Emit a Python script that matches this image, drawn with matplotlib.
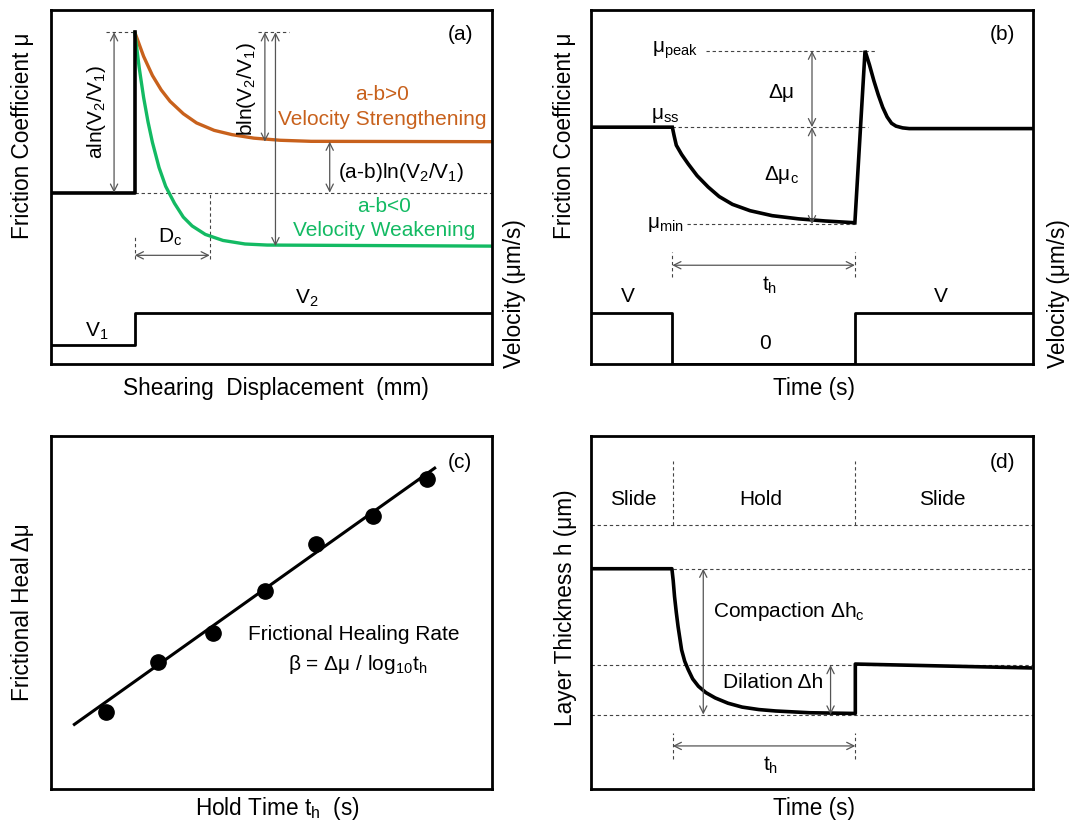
import matplotlib
matplotlib.use("Agg")
import matplotlib.pyplot as plt

plt.rcParams['font.family'] = ['Liberation Sans', 'DejaVu Sans']
plt.rcParams['mathtext.default'] = 'regular'

ORANGE = '#C8611C'
GREEN = '#13BA63'
GRAY = '#555555'

# ---- panel (a): velocity step ----
a_step_x = 19.0
a_base = 48.4
a_peak = 93.7
a_fric_x = [0, 19.0, 19.0]
a_fric_y = [48.4, 48.4, 93.7]
a_vel_x = [0, 19.0, 19.0, 100]
a_vel_y = [5.5, 5.5, 14.4, 14.4]
a_orange_x = [19, 21, 23, 25, 27, 30, 33, 37, 41, 46, 52, 59, 100]
a_orange_y = [93.7, 86.9, 81.5, 77.4, 74.2, 70.7, 68.1, 66.0, 64.8, 63.8, 63.2, 62.9, 62.8]
a_green_x = [19, 20, 21, 22, 23, 24.5, 26, 28, 30, 32, 35, 39, 44, 49, 100]
a_green_y = [93.7, 83.7, 75.3, 68.4, 62.6, 55.5, 50.2, 45.4, 41.5, 39.0, 36.6, 34.9, 33.9, 33.6, 33.3]
a_strong = 62.8
a_weak = 33.3
a_dc_end = 36.0

# ---- panel (b): slide-hold-slide friction ----
b_fric_x = [0, 18.4, 18.8, 19.3, 20.5, 22, 24, 26.5, 29, 32, 36, 41, 47, 53, 59.7,
            62.0, 63.0, 64.0, 65.0, 66.0, 67.0, 68.0, 69.0, 70.5, 72, 100]
b_fric_y = [66.9, 66.9, 64.5, 61.8, 59.2, 56.5, 53.2, 50.0, 47.3, 45.1, 43.3, 41.9, 41.0, 40.4, 39.9,
            88.5, 84.5, 80.0, 76.0, 72.5, 69.8, 68.0, 67.2, 66.7, 66.5, 66.5]
b_vel_x = [0, 18.4, 18.4, 59.7, 59.7, 100]
b_vel_y = [14.3, 14.3, 0, 0, 14.3, 14.3]
b_ss, b_peak, b_min = 66.9, 88.5, 39.5
b_hold = [18.4, 59.7]

# ---- panel (c): healing vs hold time ----
c_pts_x = [12.5, 24.2, 36.8, 48.5, 60.0, 73.0, 85.2]
c_pts_y = [21.8, 36.0, 44.1, 56.2, 69.5, 77.2, 87.8]
c_fit_x = [5.3, 87.0]
c_fit_y = [18.3, 90.9]

# ---- panel (d): layer thickness ----
d_h_x = [0, 18.3, 18.6, 18.9, 19.3, 19.7, 20.5, 21.2, 22.0, 23.0, 24.3, 26.0, 28.1, 31.0, 34.2,
         38.0, 41.8, 49.5, 59.8, 59.8, 99.4]
d_h_y = [62.4, 62.4, 59.0, 54.5, 50.0, 46.0, 39.4, 36.2, 33.8, 31.2, 29.1, 27.3, 25.8, 24.3, 23.2,
         22.5, 22.1, 21.6, 21.4, 35.4, 34.3]
d_top, d_mid, d_low = 62.4, 35.1, 21.1
d_phase = 74.9
d_hold = [18.5, 59.8]

W, H = 1070, 824
fig = plt.figure(figsize=(W / 100, H / 100), dpi=100)


def make_ax(x0, x1, y0, y1):
    ax = fig.add_axes([x0 / W, 1 - y1 / H, (x1 - x0) / W, (y1 - y0) / H])
    ax.set_xlim(0, 100)
    ax.set_ylim(0, 100)
    ax.set_xticks([])
    ax.set_yticks([])
    for s in ax.spines.values():
        s.set_linewidth(2.0)
    return ax


def labels(ax, xl, xpos, yl, ypos):
    # centre both axis labels on the given axes-fraction points
    ax.set_xlabel(xl, fontsize=FS)
    ax.xaxis.label.set_va('center')
    ax.xaxis.set_label_coords(*xpos)
    ax.set_ylabel(yl, fontsize=FS)
    ax.yaxis.label.set_va('center')
    ax.yaxis.set_label_coords(*ypos)


def arrow(ax, x0, y0, x1, y1):
    ax.annotate('', xy=(x1, y1), xytext=(x0, y0),
                arrowprops=dict(arrowstyle='<->', color=GRAY, lw=0.9,
                                shrinkA=0, shrinkB=0, mutation_scale=13))


def dash(ax, xs, ys):
    ax.plot(xs, ys, color='#444444', lw=0.8, ls=(0, (3, 2.5)))


FS = 16.3
TS = 15

axa = make_ax(51, 492, 10, 364)
axb = make_ax(591, 1033, 10, 364)
axc = make_ax(51, 492, 436, 789)
axd = make_ax(591, 1033, 436, 789)

# ---------------- (a) ----------------
ax = axa
dash(ax, [a_step_x, 100], [a_base, a_base])
dash(ax, [12.4, a_step_x], [a_peak, a_peak])
dash(ax, [46.9, 54.0], [a_peak, a_peak])
dash(ax, [a_step_x, a_step_x], [29.8, 35.9])
dash(ax, [a_dc_end, a_dc_end], [29.8, a_base])
ax.plot(a_orange_x, a_orange_y, color=ORANGE, lw=2.4, solid_capstyle='round')
ax.plot(a_green_x, a_green_y, color=GREEN, lw=2.4, solid_capstyle='round')
ax.plot(a_fric_x, a_fric_y, color='black', lw=2.6)
ax.plot(a_vel_x, a_vel_y, color='black', lw=2.0)
arrow(ax, 14.3, a_base, 14.3, a_peak)
arrow(ax, 48.5, a_strong, 48.5, a_peak)
arrow(ax, 50.9, a_weak, 50.9, a_peak)
arrow(ax, 63.2, a_base, 63.2, a_strong)
arrow(ax, a_step_x, 30.7, a_dc_end, 30.7)
ax.text(10.4, 71.1, 'aln(V$_2$/V$_1$)', rotation=90, ha='center', va='center', fontsize=TS)
ax.text(44.3, 77.7, 'bln(V$_2$/V$_1$)', rotation=90, ha='center', va='center', fontsize=TS)
ax.text(75.1, 76.0, 'a-b>0', color=ORANGE, ha='center', va='center', fontsize=TS)
ax.text(75.1, 69.1, 'Velocity Strengthening', color=ORANGE, ha='center', va='center', fontsize=TS)
ax.text(65.1, 54.2, '(a-b)ln(V$_2$/V$_1$)', ha='left', va='center', fontsize=TS)
ax.text(75.5, 44.6, 'a-b<0', color=GREEN, ha='center', va='center', fontsize=TS)
ax.text(75.5, 37.8, 'Velocity Weakening', color=GREEN, ha='center', va='center', fontsize=TS)
ax.text(27.1, 35.7, 'D$_c$', ha='center', va='center', fontsize=TS)
ax.text(58.0, 18.5, 'V$_2$', ha='center', va='center', fontsize=TS)
ax.text(10.4, 9.1, 'V$_1$', ha='center', va='center', fontsize=TS)
ax.text(92.8, 93.2, '(a)', ha='center', va='center', fontsize=TS)
labels(ax, 'Shearing  Displacement  (mm)', (0.51, -0.068),
       'Friction Coefficient μ', (-0.065, 0.644))
ax.text(1.05, 0.2, 'Velocity (μm/s)', rotation=90, transform=ax.transAxes,
        ha='center', va='center', fontsize=FS)

# ---------------- (b) ----------------
ax = axb
dash(ax, [26.0, 64.7], [b_peak, b_peak])
dash(ax, [b_hold[0], 62.7], [b_ss, b_ss])
dash(ax, [21.8, b_hold[1]], [b_min, b_min])
for hx in b_hold:
    dash(ax, [hx, hx], [24.6, 31.7])
ax.plot(b_fric_x, b_fric_y, color='black', lw=2.6, solid_joinstyle='miter')
ax.plot(b_vel_x, b_vel_y, color='black', lw=2.0)
arrow(ax, 50.0, b_ss, 50.0, b_peak)
arrow(ax, 50.0, b_min, 50.0, b_ss)
arrow(ax, b_hold[0], 27.9, b_hold[1], 27.9)
ax.text(24.1, 88.5, 'μ$_{peak}$', ha='right', va='center', fontsize=TS)
ax.text(16.9, 70.2, 'μ$_{ss}$', ha='center', va='center', fontsize=TS)
ax.text(21.0, 39.5, 'μ$_{min}$', ha='right', va='center', fontsize=TS)
ax.text(43.1, 76.8, 'Δμ', ha='center', va='center', fontsize=TS)
ax.text(43.2, 53.3, 'Δμ$_c$', ha='center', va='center', fontsize=TS)
ax.text(40.5, 22.3, 't$_h$', ha='center', va='center', fontsize=TS)
ax.text(8.4, 19.0, 'V', ha='center', va='center', fontsize=TS)
ax.text(79.2, 19.0, 'V', ha='center', va='center', fontsize=TS)
ax.text(39.3, 5.8, '0', ha='center', va='center', fontsize=TS)
ax.text(93.1, 93.2, '(b)', ha='center', va='center', fontsize=TS)
labels(ax, 'Time (s)', (0.505, -0.068),
       'Friction Coefficient μ', (-0.059, 0.644))
ax.text(1.057, 0.2, 'Velocity (μm/s)', rotation=90, transform=ax.transAxes,
        ha='center', va='center', fontsize=FS)

# ---------------- (c) ----------------
ax = axc
ax.plot(c_fit_x, c_fit_y, color='black', lw=2.2)
ax.plot(c_pts_x, c_pts_y, 'o', color='black', ms=11)
ax.text(68.7, 43.9, 'Frictional Healing Rate', ha='center', va='center', fontsize=TS)
ax.text(69.5, 35.2, 'β = Δμ / log$_{10}$t$_h$', ha='center', va='center', fontsize=TS)
ax.text(92.8, 92.5, '(c)', ha='center', va='center', fontsize=TS)
labels(ax, 'Hold Time t$_h$  (s)', (0.514, -0.054),
       'Frictional Heal Δμ', (-0.065, 0.5))

# ---------------- (d) ----------------
ax = axd
dash(ax, [0, 100], [d_phase, d_phase])
for hx in d_hold:
    dash(ax, [hx, hx], [d_phase, 93.0])
dash(ax, [d_hold[0], 100], [d_top, d_top])
dash(ax, [0, 100], [d_mid, d_mid])
dash(ax, [0, 100], [d_low, d_low])
for hx in d_hold:
    dash(ax, [hx, hx], [8.5, 16.0])
ax.plot(d_h_x, d_h_y, color='black', lw=2.6)
arrow(ax, 25.4, d_low, 25.4, d_top)
arrow(ax, 54.2, d_low, 54.2, d_mid)
arrow(ax, d_hold[0], 12.2, d_hold[1], 12.2)
ax.text(9.5, 81.9, 'Slide', ha='center', va='center', fontsize=TS)
ax.text(38.4, 81.9, 'Hold', ha='center', va='center', fontsize=TS)
ax.text(79.4, 81.9, 'Slide', ha='center', va='center', fontsize=TS)
ax.text(93.0, 92.5, '(d)', ha='center', va='center', fontsize=TS)
ax.text(27.7, 50.4, 'Compaction Δh$_c$', ha='left', va='center', fontsize=TS)
ax.text(41.1, 30.2, 'Dilation Δh', ha='center', va='center', fontsize=TS)
ax.text(40.7, 6.6, 't$_h$', ha='center', va='center', fontsize=TS)
labels(ax, 'Time (s)', (0.505, -0.054),
       'Layer Thickness h (μm)', (-0.057, 0.515))

fig.savefig('out.png', dpi=100)
